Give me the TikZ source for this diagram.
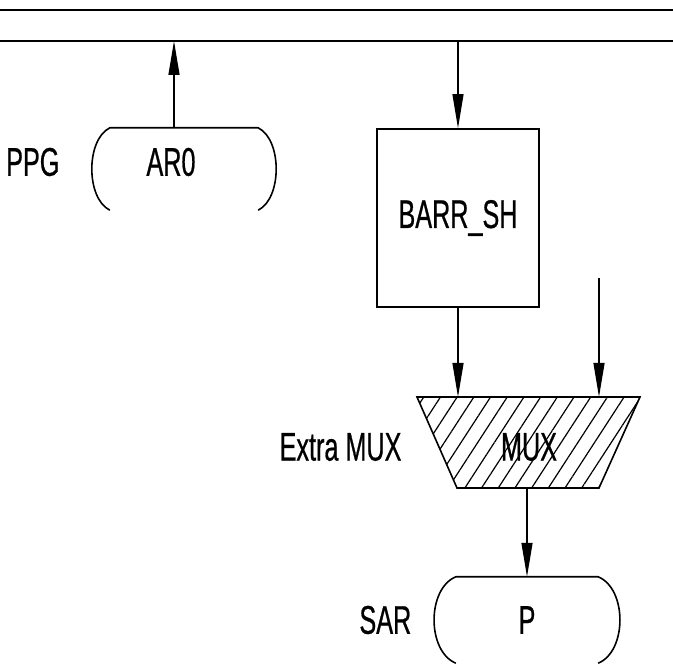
\documentclass[tikz,border=0pt]{standalone}
\usepackage{fontspec}
\setmainfont{Liberation Sans}[FakeStretch=0.63, FakeBold=0.6]
\usepackage{tikz}
\usetikzlibrary{arrows.meta, patterns.meta, positioning}

\tikzset{
  sig/.style={-{Triangle[length=34pt,width=11pt]}, line width=1.2pt},
  bus/.style={line width=2pt},
  outl/.style={line width=1.6pt},
  regbox/.style={inner sep=0pt},
  blk/.style={draw, outl, inner sep=0pt, minimum width=162pt, minimum height=178pt},
  hatch/.style={outl, pattern={Lines[angle=57,distance=14pt,line width=1.2pt]}}
}
% top line and the two side arcs of a register, open at the bottom
\newcommand\regline[2]{%
  \draw[outl] (#1.south west) .. controls +(-#2,12) and +(-#2,-12) .. (#1.north west)
    -- (#1.north east) .. controls +(#2,-12) and +(#2,12) .. (#1.south east);}

\begin{document}
\begin{tikzpicture}[x=1pt, y=1pt, font=\fontsize{40}{48}\selectfont]
    \useasboundingbox (0,0) rectangle (673,664);

    % the two bus lines
    \coordinate (topW) at (0,654);
    \coordinate (topE) at (673,654);
    \coordinate (busW) at (0,623);
    \coordinate (busE) at (673,623);
    \draw[line width=2.8pt] (topW) -- (topE);
    \draw[bus] (busW) -- (busE);
    \coordinate (tapA) at (174,623);
    \coordinate (tapB) at (458,623);

    \node[regbox, minimum width=148pt, minimum height=82pt] (ar0) at (184,495) {};
    \node (ar0txt) at (171,502) {AR0};
    \node (ppg) [left=80pt of ar0txt] {PPG};
    \regline{ar0}{24}

    \node[blk] (barr) at (458,446) {BARR\_SH};
    \coordinate (in2) at (599,386);

    % multiplexer
    \coordinate (muxTL) at (417,267);
    \coordinate (muxTR) at (640,267);
    \coordinate (muxBR) at (599,176);
    \coordinate (muxBL) at (457,176);
    \coordinate (muxout) at (527,176);
    \draw[hatch] (muxTL) -- (muxTR) -- (muxBR) -- (muxBL) -- cycle;
    \node (mux) at (529,217) {MUX};
    \node (extra) [left=12pt of muxTL |- mux] {Extra MUX};

    \node[regbox, minimum width=142pt, minimum height=86pt] (p) at (527,44) {P};
    \node (sar) [left=41pt of p.west] {SAR};
    \regline{p}{29}

    \draw[sig] (tapA |- ar0.north) -- (tapA);
    \draw[sig] (tapB) -- (barr.north);
    \draw[sig] (barr.south) -- (barr.south |- muxTL);
    \draw[sig] (in2) -- (in2 |- muxTL);
    \draw[sig] (muxout) -- (muxout |- p.north);
\end{tikzpicture}
\end{document}
